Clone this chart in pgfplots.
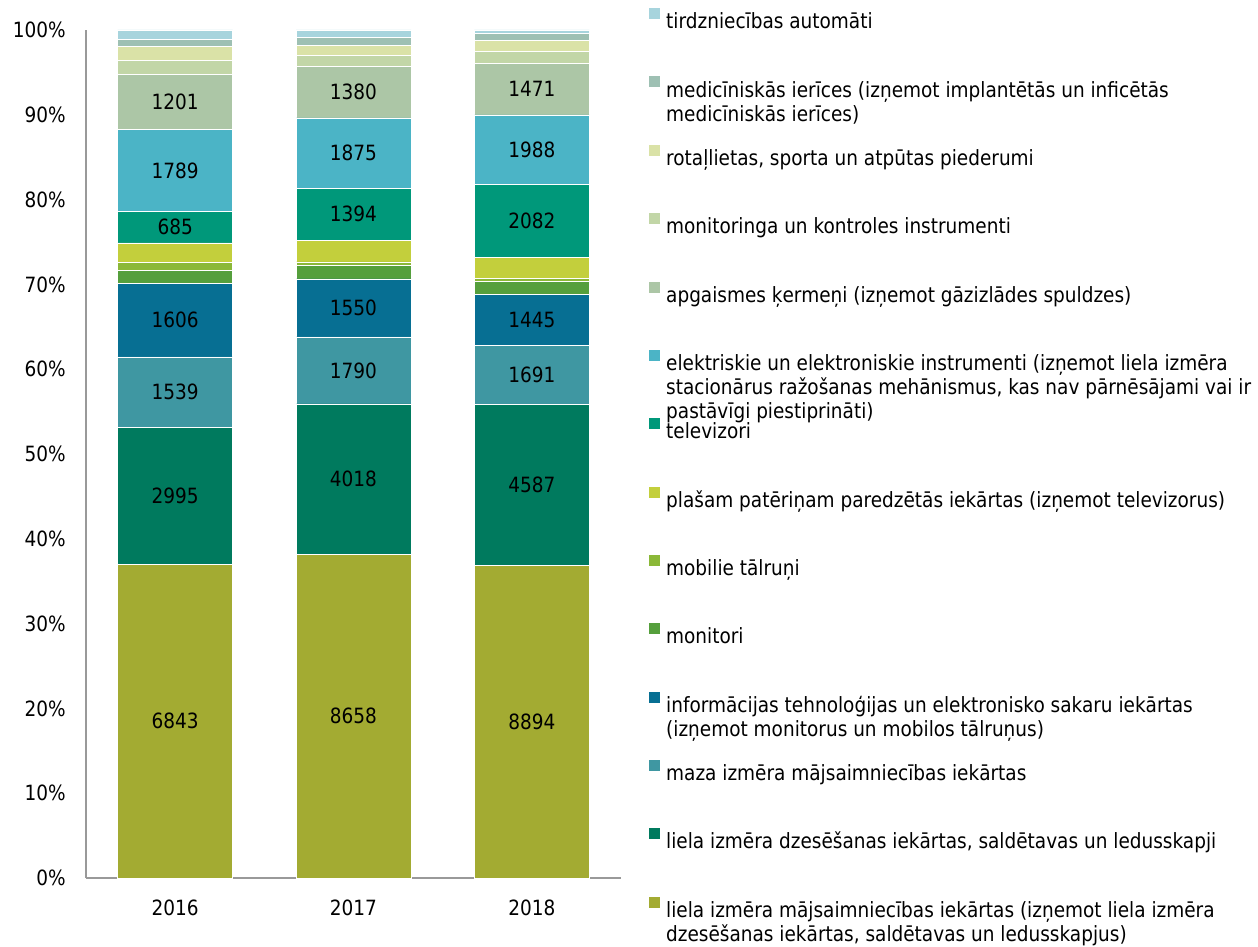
\documentclass[border=0pt]{standalone}
\usepackage{fontspec}
\setmainfont{DejaVu Sans}[FakeStretch=0.88]
\usepackage{pgfplots}
\usepackage{pgfplotstable}
\pgfplotsset{compat=1.18}

\definecolor{clmaj}{HTML}{A3AB32}
\definecolor{cldz}{HTML}{007A5E}
\definecolor{cmaza}{HTML}{3F97A2}
\definecolor{cinfo}{HTML}{076F93}
\definecolor{cmonit}{HTML}{559F3C}
\definecolor{cmob}{HTML}{8BB838}
\definecolor{cplas}{HTML}{C3CF3C}
\definecolor{ctv}{HTML}{00987A}
\definecolor{celek}{HTML}{4BB4C6}
\definecolor{capg}{HTML}{ACC6A6}
\definecolor{cmkontr}{HTML}{C2D6A7}
\definecolor{crot}{HTML}{DAE2A7}
\definecolor{cmed}{HTML}{9EC0B3}
\definecolor{ctirdz}{HTML}{A7D4DD}

\pgfplotstableread{
x total lmaj ldz maza info monit mob plas tv elek apg mkontr rot med tirdz
0 18511 6843 2995 1539 1606 275 183 421 685 1789 1201 305 305 161 203
1 22673 8658 4018 1790 1550 359 96 581 1394 1875 1380 302 260 214 196
2 24156 8894 4587 1691 1445 386 85 580 2082 1988 1471 330 313 210 94
}\datatable

\newcommand{\fnt}{\fontsize{21bp}{24bp}\selectfont}
\newcommand{\LE}[1]{\raisebox{0pt}[18bp][0pt]{\parbox[t]{620bp}{\raggedright\fnt #1}}}

\pgfplotsset{
  seg/.style={fill=#1, draw=white, line width=0.6bp},
  common/.style={
    at={(86bp,69bp)}, anchor=south west,
    width=535bp, height=848bp, scale only axis,
    xmin=-0.5, xmax=2.5, ymin=0, ymax=100,
    /pgf/number format/assume math mode=true,
  },
  lab/.style={
    draw=none, mark=none, forget plot,
    point meta=explicit,
    nodes near coords={\pgfmathprintnumber[fixed,precision=0,1000 sep={},assume math mode=true]{\pgfplotspointmeta}},
    every node near coord/.append style={anchor=center, inner sep=0pt, font=\fnt, text=black},
  },
}

\begin{document}
\begin{tikzpicture}
\path[use as bounding box] (0,0) rectangle (1258bp,947bp);
\begin{axis}[
  common,
  ybar stacked, bar width=115bp,
  xtick={0,1,2}, xticklabels={2016,2017,2018},
  ytick={0,10,...,100},
  yticklabel={\pgfmathprintnumber{\tick}\%},
  axis x line*=bottom, axis y line*=left,
  axis line style={draw=black!40, line width=1.2bp, -},
  major tick length=0pt,
  tick label style={font=\fnt, text=black, inner sep=0pt},
  yticklabel style={xshift=-20bp},
  xticklabel style={yshift=-22bp},
  reverse legend,
  legend cell align=left,
  legend image code/.code={\path[#1, draw=none] (0bp,1.4bp) rectangle (11bp,12.4bp);},
  legend style={at={(1.0523,1.026)}, anchor=north west, draw=none, fill=none,
    inner sep=0pt, row sep=46.2bp, column sep=6bp, nodes={inner sep=0pt}},
]
\addplot[seg=clmaj] table[x=x, y expr=\thisrow{lmaj}/\thisrow{total}*100] {\datatable};
\addlegendentry{\LE{liela izmēra mājsaimniecības iekārtas (izņemot liela izmēra\\dzesēšanas iekārtas, saldētavas un ledusskapjus)}}
\addplot[seg=cldz] table[x=x, y expr=\thisrow{ldz}/\thisrow{total}*100] {\datatable};
\addlegendentry{\LE{liela izmēra dzesēšanas iekārtas, saldētavas un ledusskapji}}
\addplot[seg=cmaza] table[x=x, y expr=\thisrow{maza}/\thisrow{total}*100] {\datatable};
\addlegendentry{\LE{maza izmēra mājsaimniecības iekārtas}}
\addplot[seg=cinfo] table[x=x, y expr=\thisrow{info}/\thisrow{total}*100] {\datatable};
\addlegendentry{\LE{informācijas tehnoloģijas un elektronisko sakaru iekārtas\\(izņemot monitorus un mobilos tālruņus)}}
\addplot[seg=cmonit] table[x=x, y expr=\thisrow{monit}/\thisrow{total}*100] {\datatable};
\addlegendentry{\LE{monitori}}
\addplot[seg=cmob] table[x=x, y expr=\thisrow{mob}/\thisrow{total}*100] {\datatable};
\addlegendentry{\LE{mobilie tālruņi}}
\addplot[seg=cplas] table[x=x, y expr=\thisrow{plas}/\thisrow{total}*100] {\datatable};
\addlegendentry{\LE{plašam patēriņam paredzētās iekārtas (izņemot televizorus)}}
\addplot[seg=ctv] table[x=x, y expr=\thisrow{tv}/\thisrow{total}*100] {\datatable};
\addlegendentry{\LE{televizori}}
\addplot[seg=celek] table[x=x, y expr=\thisrow{elek}/\thisrow{total}*100] {\datatable};
\addlegendentry{\LE{elektriskie un elektroniskie instrumenti (izņemot liela izmēra\\stacionārus ražošanas mehānismus, kas nav pārnēsājami vai ir\\pastāvīgi piestiprināti)}}
\addplot[seg=capg] table[x=x, y expr=\thisrow{apg}/\thisrow{total}*100] {\datatable};
\addlegendentry{\LE{apgaismes ķermeņi (izņemot gāzizlādes spuldzes)}}
\addplot[seg=cmkontr] table[x=x, y expr=\thisrow{mkontr}/\thisrow{total}*100] {\datatable};
\addlegendentry{\LE{monitoringa un kontroles instrumenti}}
\addplot[seg=crot] table[x=x, y expr=\thisrow{rot}/\thisrow{total}*100] {\datatable};
\addlegendentry{\LE{rotaļlietas, sporta un atpūtas piederumi}}
\addplot[seg=cmed] table[x=x, y expr=\thisrow{med}/\thisrow{total}*100] {\datatable};
\addlegendentry{\LE{medicīniskās ierīces (izņemot implantētās un inficētās\\medicīniskās ierīces)}}
\addplot[seg=ctirdz] table[x=x, y expr=\thisrow{tirdz}/\thisrow{total}*100] {\datatable};
\addlegendentry{\LE{tirdzniecības automāti}}
\end{axis}
\begin{axis}[common, hide axis, clip=false]
\addplot[lab] table[x=x, meta=lmaj, y expr=(\thisrow{lmaj}/2)/\thisrow{total}*100] {\datatable};
\addplot[lab] table[x=x, meta=ldz, y expr=(\thisrow{lmaj}+\thisrow{ldz}/2)/\thisrow{total}*100] {\datatable};
\addplot[lab] table[x=x, meta=maza, y expr=(\thisrow{lmaj}+\thisrow{ldz}+\thisrow{maza}/2)/\thisrow{total}*100] {\datatable};
\addplot[lab] table[x=x, meta=info, y expr=(\thisrow{lmaj}+\thisrow{ldz}+\thisrow{maza}+\thisrow{info}/2)/\thisrow{total}*100] {\datatable};
\addplot[lab] table[x=x, meta=tv, y expr=(\thisrow{lmaj}+\thisrow{ldz}+\thisrow{maza}+\thisrow{info}+\thisrow{monit}+\thisrow{mob}+\thisrow{plas}+\thisrow{tv}/2)/\thisrow{total}*100] {\datatable};
\addplot[lab] table[x=x, meta=elek, y expr=(\thisrow{lmaj}+\thisrow{ldz}+\thisrow{maza}+\thisrow{info}+\thisrow{monit}+\thisrow{mob}+\thisrow{plas}+\thisrow{tv}+\thisrow{elek}/2)/\thisrow{total}*100] {\datatable};
\addplot[lab] table[x=x, meta=apg, y expr=(\thisrow{lmaj}+\thisrow{ldz}+\thisrow{maza}+\thisrow{info}+\thisrow{monit}+\thisrow{mob}+\thisrow{plas}+\thisrow{tv}+\thisrow{elek}+\thisrow{apg}/2)/\thisrow{total}*100] {\datatable};
\end{axis}
\end{tikzpicture}
\end{document}
